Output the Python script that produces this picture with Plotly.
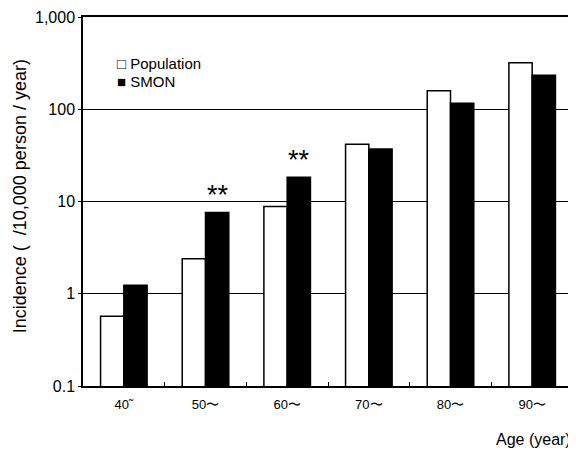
import math
import plotly.graph_objects as go

categories = ["40˜", "50〜", "60〜", "70〜", "80〜", "90〜"]
population = [0.57, 2.4, 8.8, 41.7, 159, 320]
smon = [1.24, 7.6, 18.3, 37, 116, 233]
sig_categories = ["50〜", "60〜"]
sig_values = [7.6, 18.3]
ytick_vals = [0.1, 1, 10, 100, 1000]
ytick_text = ["0.1", "1", "10", "100", "1,000"]

FONT = "Liberation Sans, Arial, sans-serif"

fig = go.Figure()
fig.add_trace(go.Bar(name="Population", x=categories, y=population, showlegend=False,
                     marker=dict(color="white", line=dict(color="black", width=1.5))))
fig.add_trace(go.Bar(name="SMON", x=categories, y=smon, showlegend=False,
                     marker=dict(color="black", line=dict(color="black", width=1.5))))

for c, v in zip(sig_categories, sig_values):
    fig.add_annotation(x=c, y=math.log10(v), yref="y", xref="x", text="**", showarrow=False,
                       xshift=12, yshift=17, yanchor="middle",
                       font=dict(size=27, color="black", family=FONT))

# legend drawn as text labels
fig.add_annotation(xref="paper", yref="paper", x=0.066, y=0.875, text="□ Population",
                   showarrow=False, xanchor="left", yanchor="middle",
                   font=dict(size=15, color="black", family=FONT))
fig.add_annotation(xref="paper", yref="paper", x=0.066, y=0.824, text="■ SMON",
                   showarrow=False, xanchor="left", yanchor="middle",
                   font=dict(size=15, color="black", family=FONT))

fig.add_annotation(xref="paper", yref="paper", x=1.0, y=-0.145, text="Age (year)",
                   showarrow=False, xanchor="right", yanchor="middle",
                   font=dict(size=16, color="black", family=FONT))

fig.add_annotation(xref="paper", yref="paper", x=-0.128, y=0.515,
                   text="Incidence (  /10,000 person / year)", textangle=-90,
                   showarrow=False, xanchor="center", yanchor="middle",
                   font=dict(size=18, color="black", family=FONT))

fig.update_layout(
    width=568, height=442,
    margin=dict(l=75, r=3, t=9, b=64, autoexpand=False),
    paper_bgcolor="white", plot_bgcolor="white",
    barmode="group", bargap=0.43, bargroupgap=0,
    font=dict(family=FONT, color="black", size=13),
    showlegend=False,
)
fig.update_xaxes(type="category", showline=True, linecolor="black", linewidth=1.5,
                 mirror=True, showgrid=False, ticks="inside", tickson="boundaries",
                 ticklen=4, tickcolor="black", ticklabelstandoff=6,
                 tickfont=dict(size=13))
fig.update_yaxes(type="log", range=[-1, 3], tickvals=ytick_vals, ticktext=ytick_text,
                 showline=True, linecolor="black", linewidth=1.5, mirror=True,
                 showgrid=True, gridcolor="black", gridwidth=1,
                 ticks="outside", ticklen=3, tickcolor="black",
                 tickfont=dict(size=16))

fig.write_html("out.html")
